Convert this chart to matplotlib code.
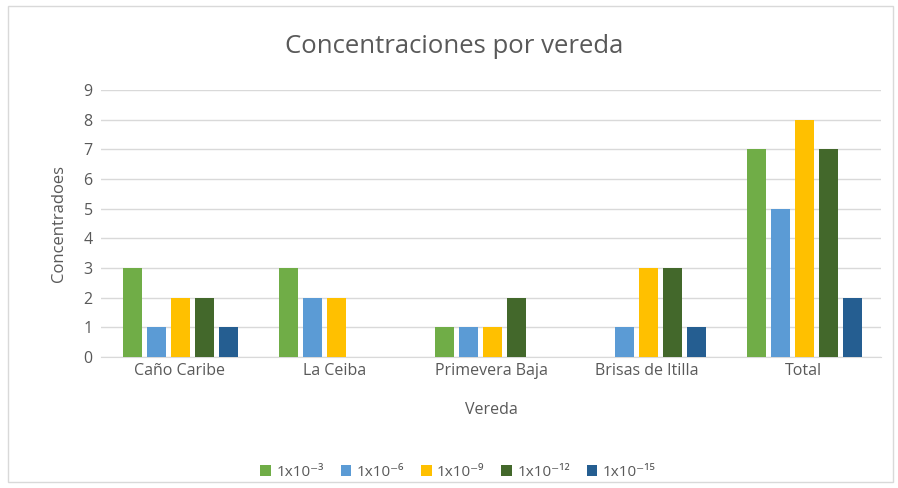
import numpy as np
import matplotlib.pyplot as plt
from matplotlib.patches import Rectangle

# Datos
veredas = ['Caño Caribe', 'La Ceiba', 'Primevera Baja', 'Brisas de Itilla', 'Total']
series = ['1x10⁻³', '1x10⁻⁶', '1x10⁻⁹', '1x10⁻¹²', '1x10⁻¹⁵']
conc_e3 = [3, 3, 1, 0, 7]
conc_e6 = [1, 2, 1, 1, 5]
conc_e9 = [2, 2, 1, 3, 8]
conc_e12 = [2, 0, 2, 3, 7]
conc_e15 = [1, 0, 0, 1, 2]
colores = ['#70AD47', '#5B9BD5', '#FFC000', '#43682B', '#255E91']

GRIS = '#595959'
plt.rcParams['font.family'] = ['Open Sans', 'DejaVu Sans']

fig = plt.figure(figsize=(8.98, 4.88), dpi=100)
ax = fig.add_axes([0.1125, 0.2684, 0.8686, 0.5472])

x = np.arange(len(veredas))
ancho = 0.122
paso = 0.154
for i, (vals, nombre, c) in enumerate(zip([conc_e3, conc_e6, conc_e9, conc_e12, conc_e15], series, colores)):
    ax.bar(x + (i - 2) * paso + 0.01, vals, width=ancho, color=c, label=nombre, zorder=3)

ax.set_xlim(-0.5, len(veredas) - 0.5)
ax.set_ylim(0, 9)
ax.set_yticks(range(10))
ax.grid(axis='y', color='#D9D9D9', linewidth=1, zorder=0)
for s in ['top', 'right', 'left']:
    ax.spines[s].set_visible(False)
ax.spines['bottom'].set_color('#D9D9D9')
ax.tick_params(length=0, colors=GRIS, labelsize=11.5)
ax.tick_params(axis='y', pad=6)
ax.tick_params(axis='x', pad=4)
ax.set_xticks(x)
ax.set_xticklabels(veredas)

ax.set_xlabel('Vereda', color=GRIS, fontsize=11.5, labelpad=17)
ax.set_ylabel('Concentradoes', color=GRIS, fontsize=12, labelpad=12)
fig.text(0.506, 0.905, 'Concentraciones por vereda', ha='center', va='center',
         color=GRIS, fontsize=18.5)

fig.legend(loc='center', bbox_to_anchor=(0.51, 0.032), ncol=5, frameon=False,
           fontsize=11, labelcolor=GRIS, handlelength=0.7, handleheight=0.7,
           handletextpad=0.35, columnspacing=1.1)

fig.patches.append(Rectangle((0.009, 0.012), 0.985, 0.976, transform=fig.transFigure,
                             fill=False, edgecolor='#D9D9D9', linewidth=1))

fig.savefig('out.png', dpi=100)
